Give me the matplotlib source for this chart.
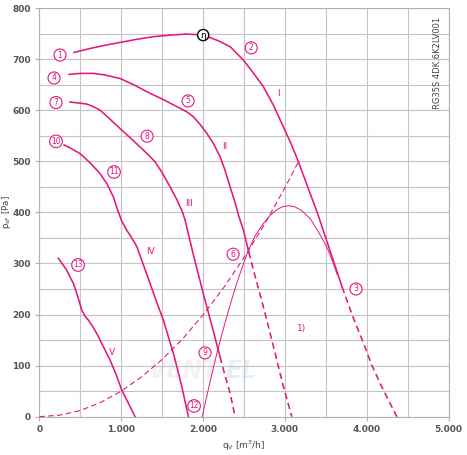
import numpy as np
import matplotlib.pyplot as plt
from matplotlib.ticker import MultipleLocator, FuncFormatter

# fan curves (q_V in m3/h, p_sF in Pa)
c1_x = [424, 600, 800, 1000, 1200, 1400, 1600, 1800, 2010, 2200, 2334, 2494, 2600, 2738,
        2860, 2983, 3080, 3166, 3309, 3400, 3500, 3600, 3700]
c1_y = [713, 720, 727, 733, 739, 744, 747, 749, 747, 735, 724, 698, 676, 646,
        610, 567, 533, 499, 437, 398, 350, 302, 254]
c1d_x = [3700, 3830, 3961, 4060, 4165, 4270, 4369]
c1d_y = [254, 196, 144, 102, 65, 31, 0]

c2_x = [363, 500, 660, 800, 987, 1150, 1353, 1500, 1680, 1800, 1883, 1960, 2046, 2130,
        2209, 2270, 2331, 2390, 2433, 2494, 2560]
c2_y = [670, 672, 672, 669, 662, 650, 633, 622, 607, 597, 587, 573, 555, 534,
        509, 482, 450, 420, 395, 365, 322]
c2d_x = [2560, 2650, 2738, 2800, 2861, 2983, 3085]
c2d_y = [322, 267, 215, 176, 137, 59, 0]

c3_x = [375, 480, 579, 660, 742, 860, 987, 1110, 1231, 1330, 1414, 1500, 1598, 1680,
        1741, 1781, 1830, 1890, 2005, 2127, 2209]
c3_y = [616, 614, 612, 607, 600, 583, 564, 546, 528, 513, 499, 478, 450, 425,
        404, 385, 352, 312, 240, 167, 117]
c3d_x = [2209, 2270, 2331, 2392]
c3d_y = [117, 80, 46, 0]

c4_x = [302, 400, 498, 620, 742, 830, 905, 960, 1007, 1068, 1130, 1191, 1270, 1353,
        1430, 1516, 1580, 1638, 1690, 1741, 1822]
c4_y = [532, 524, 515, 497, 476, 455, 430, 403, 383, 365, 350, 333, 298, 261,
        226, 189, 155, 124, 92, 59, 0]

c5_x = [232, 330, 416, 470, 518, 560, 600, 650, 701, 780, 864, 940, 1007, 1090, 1170]
c5_y = [310, 288, 261, 235, 209, 196, 189, 177, 163, 138, 111, 82, 52, 26, 0]

# thin arch
arc_x = [1990, 2080, 2169, 2249, 2330, 2400, 2480, 2555, 2640, 2738, 2820, 2900, 2970,
         3044, 3120, 3200, 3309, 3410, 3513, 3580, 3640]
arc_y = [0, 64, 124, 172, 218, 255, 293, 326, 355, 378, 394, 405, 411,
         413, 411, 404, 388, 362, 332, 306, 278]

# system curve (dashed)
sys_x = [0, 250, 500, 750, 1000, 1250, 1500, 1750, 2000, 2250, 2500, 2750, 3000, 3170]
sys_y = [0, 3, 12, 28, 50, 78, 112, 152, 199, 252, 311, 376, 448, 500]

num_labels = ['1', '2', '3', '4', '5', '6', '7', '8', '9', '10', '11', '12', '13']
num_x = [253, 2589, 3870, 180, 1818, 2368, 204, 1317, 2025, 204, 913, 1891, 473]
num_y = [708, 722, 250, 663, 618, 318, 615, 549, 125, 539, 479, 21, 297]

roman_labels = ['I', 'II', 'III', 'IV', 'V', '1)']
roman_x = [2918, 2269, 1830, 1354, 890, 3210]
roman_y = [633, 528, 418, 324, 125, 172]

pink = '#e5177d'

fig = plt.figure(figsize=(4.67, 4.55), dpi=100)
ax = fig.add_axes([0.0842, 0.0842, 0.8762, 0.8982])

# faint watermark
ax.text(1760, 90, 'VENT', fontsize=17, fontweight='bold', style='italic',
        color='#999999', alpha=0.12, ha='center', va='center', zorder=0.5)
ax.text(2460, 90, 'EL', fontsize=17, fontweight='bold', style='italic',
        color='#4a9fd8', alpha=0.14, ha='center', va='center', zorder=0.5)

lw = 1.15
dash = (0, (4, 2.5))
ax.plot(c1_x, c1_y, color=pink, lw=lw, zorder=3)
ax.plot(c1d_x, c1d_y, color=pink, lw=lw, ls=dash, zorder=3)
ax.plot(c2_x, c2_y, color=pink, lw=lw, zorder=3)
ax.plot(c2d_x, c2d_y, color=pink, lw=lw, ls=dash, zorder=3)
ax.plot(c3_x, c3_y, color=pink, lw=lw, zorder=3)
ax.plot(c3d_x, c3d_y, color=pink, lw=lw, ls=dash, zorder=3)
ax.plot(c4_x, c4_y, color=pink, lw=lw, zorder=3)
ax.plot(c5_x, c5_y, color=pink, lw=lw, zorder=3)
ax.plot(arc_x, arc_y, color=pink, lw=0.7, zorder=3)
ax.plot(sys_x, sys_y, color=pink, lw=0.8, ls=(0, (5, 3)), zorder=3)

for t, x, y in zip(num_labels, num_x, num_y):
    ax.text(x, y, t, fontsize=5.5, color=pink, ha='center', va='center', zorder=5,
            bbox=dict(boxstyle='circle,pad=0.2', fc='white', ec=pink, lw=0.8))

ax.text(2002, 747, 'η', fontsize=6.5, color='black', ha='center', va='center', zorder=6,
        bbox=dict(boxstyle='circle,pad=0.12', fc='white', ec='black', lw=1.0))

for t, x, y in zip(roman_labels, roman_x, roman_y):
    ax.text(x, y, t, fontsize=6.5, color=pink, ha='center', va='center', zorder=5)

ax.text(4862, 692, 'RG35S 4DK.6K2LV001', fontsize=6, color='#444444', rotation=90,
        ha='center', va='center')

ax.set_xlim(0, 5000)
ax.set_ylim(0, 800)
ax.xaxis.set_major_locator(MultipleLocator(1000))
ax.xaxis.set_minor_locator(MultipleLocator(500))
ax.yaxis.set_major_locator(MultipleLocator(100))
ax.yaxis.set_minor_locator(MultipleLocator(50))
ax.xaxis.set_major_formatter(FuncFormatter(lambda v, p: f'{int(v):,}'.replace(',', '.')))
ax.grid(which='both', color='#c4c4c4', lw=0.8, zorder=0)
ax.set_axisbelow(True)
for s in ax.spines.values():
    s.set_color('#b0b0b0')
    s.set_linewidth(0.8)
ax.tick_params(which='major', length=3, width=0.8, color='#b0b0b0',
               labelsize=6.5, labelcolor='#555555', pad=3)
ax.tick_params(which='minor', length=0)
for lab in ax.get_xticklabels() + ax.get_yticklabels():
    lab.set_fontweight('bold')

ax.set_xlabel('q$_\\mathregular{V}$ [m$^\\mathregular{3}$/h]', fontsize=6.5, color='#444444', labelpad=3)
ax.set_ylabel('p$_\\mathregular{sF}$ [Pa]', fontsize=6.2, color='#444444')
ax.yaxis.set_label_coords(-0.065, 0.5)

plt.savefig('out.png', dpi=100)
